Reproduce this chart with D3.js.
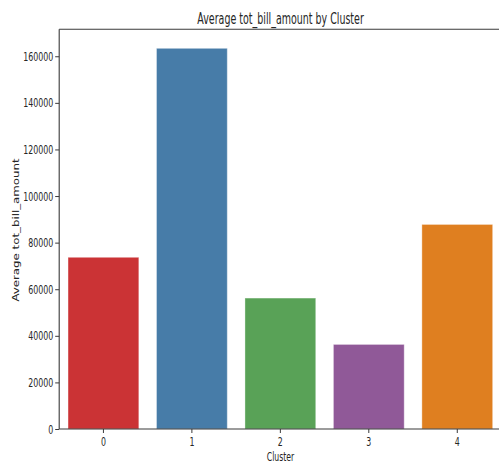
<!DOCTYPE html>
<html>
<head>
<meta charset="utf-8">
<script src="https://cdn.jsdelivr.net/npm/d3@7"></script>
<style>
  html, body { margin: 0; padding: 0; background: #fff; overflow: hidden; }
  svg { display: block; }
  text { font-family: "DejaVu Sans", sans-serif; fill: #262626; }
</style>
</head>
<body>
<svg id="chart" width="499" height="463"></svg>
<script>
const clusters = ["0", "1", "2", "3", "4"];
const avgBill = [73700, 163400, 56200, 36300, 87800];
const barColors = ["#cb3335", "#477ca8", "#59a257", "#905998", "#df7f20"];
const yTicks = [0, 20000, 40000, 60000, 80000, 100000, 120000, 140000, 160000];
const titleText = "Average tot_bill_amount by Cluster";
const xLabelText = "Cluster";
const yLabelText = "Average tot_bill_amount";

(function () {
const svg = d3.select("#chart");
const pL = 59.2, pR = 501.5, pT = 29.3, pB = 429;
const sxTick = 0.63, sxLab = 0.63, sxY = 0.7;

const x = d3.scaleBand().domain(clusters).range([pL, pR]).paddingInner(0.2).paddingOuter(0.1);
const y = d3.scaleLinear().domain([0, d3.max(avgBill) * 1.05]).range([pB, pT]);

// bars
svg.append("g").selectAll("rect")
  .data(clusters)
  .join("rect")
  .attr("x", d => x(d))
  .attr("width", x.bandwidth())
  .attr("y", (d, i) => y(avgBill[i]))
  .attr("height", (d, i) => pB - y(avgBill[i]))
  .attr("fill", (d, i) => barColors[i])
  .attr("stroke", "#ffffff")
  .attr("stroke-opacity", 0.35)
  .attr("stroke-width", 1);

// spines
const spine = svg.append("g").attr("stroke", "#3a3a3a").attr("stroke-width", 1.1).attr("fill", "none");
spine.append("line").attr("x1", pL).attr("x2", pL).attr("y1", pT).attr("y2", pB);
spine.append("line").attr("x1", pL).attr("x2", pR).attr("y1", pB).attr("y2", pB);
spine.append("line").attr("x1", pL).attr("x2", pR).attr("y1", pT).attr("y2", pT);
spine.append("line").attr("x1", pR).attr("x2", pR).attr("y1", pT).attr("y2", pB);

// y axis
const yAxis = d3.axisLeft(y).tickValues(yTicks).tickFormat(d3.format("d")).tickSize(4).tickPadding(2);
const gy = svg.append("g").attr("transform", `translate(${pL},0)`).call(yAxis);
gy.select(".domain").remove();
gy.selectAll(".tick line").attr("stroke", "#3a3a3a");
gy.selectAll(".tick text")
  .attr("font-size", 12.5)
  .attr("fill", "#262626")
  .each(function () {
    const t = d3.select(this);
    const xx = +t.attr("x");
    t.attr("x", null).attr("transform", `translate(${xx},0) scale(${sxTick},1)`);
  });

// x axis
const xAxis = d3.axisBottom(x).tickSize(4).tickPadding(4.5);
const gx = svg.append("g").attr("transform", `translate(0,${pB})`).call(xAxis);
gx.select(".domain").remove();
gx.selectAll(".tick line").attr("stroke", "#3a3a3a");
gx.selectAll(".tick text")
  .attr("font-size", 12.5)
  .attr("fill", "#262626")
  .each(function () {
    const t = d3.select(this);
    const yy = +t.attr("y");
    t.attr("y", null).attr("dy", "0.71em").attr("transform", `translate(0,${yy}) scale(${sxTick},1)`);
  });

// title
svg.append("text")
  .attr("x", 197.3)
  .attr("y", 24)
  .attr("font-size", 15)
  .attr("textLength", 166.5)
  .attr("lengthAdjust", "spacingAndGlyphs")
  .text(titleText);

// x label
svg.append("text")
  .attr("transform", `translate(280.5,461) scale(${sxLab},1)`)
  .attr("text-anchor", "middle")
  .attr("font-size", 12.3)
  .text(xLabelText);

// y label
svg.append("text")
  .attr("transform", `translate(19,${(158 + 302) / 2}) scale(${sxY},1) rotate(-90)`)
  .attr("text-anchor", "middle")
  .attr("font-size", 11.8)
  .text(yLabelText);
})();
</script>
</body>
</html>
